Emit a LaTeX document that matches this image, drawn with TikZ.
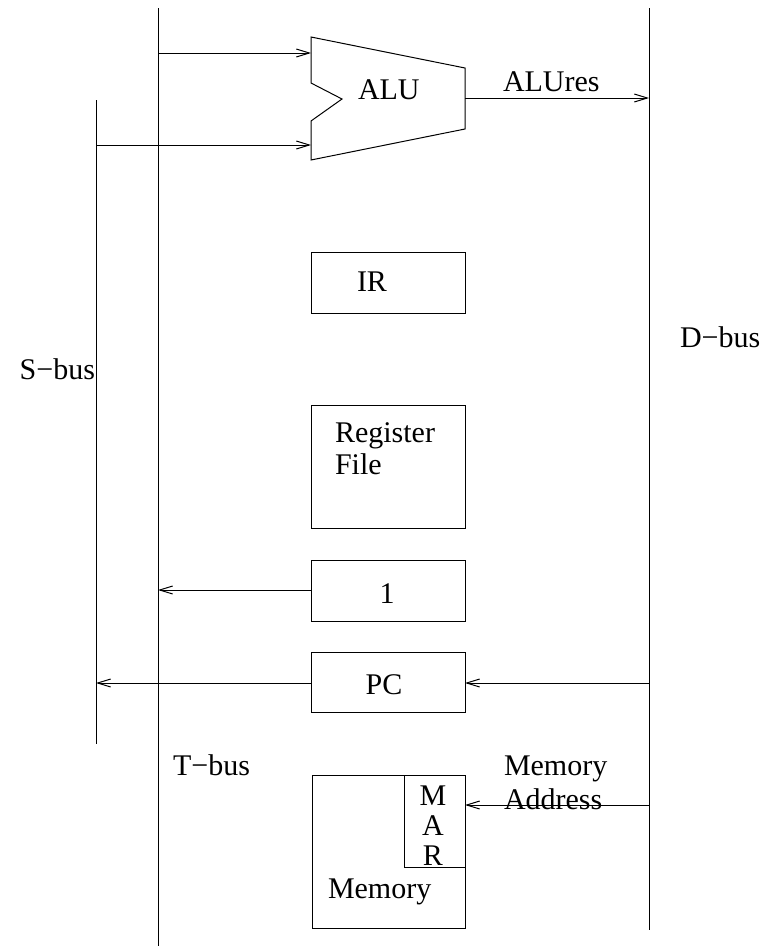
\documentclass[tikz,border=0pt]{standalone}
\usepackage{fontspec}
\setmainfont{Liberation Serif}
\usetikzlibrary{arrows.meta}
\begin{document}
\begin{tikzpicture}[x=1pt,y=-1pt,
  line width=1pt,
  every node/.style={inner sep=0pt,outer sep=0pt},
  box/.style={draw,line width=1pt,rectangle},
  lbl/.style={font=\fontsize{30}{31}\selectfont},
  bus/.style={line width=1pt},
  conn/.style={-{Straight Barb[length=13pt,width=8pt,line width=1pt]}}]
\useasboundingbox (0,0) rectangle (766,948);
% buses
\coordinate (tTop) at (158,8);
\coordinate (tBot) at (158,946);
\coordinate (sTop) at (96,100);
\coordinate (sBot) at (96,744);
\coordinate (dTop) at (649,8);
\coordinate (dBot) at (649,930);
\draw[bus] (tTop) -- (tBot);
\draw[bus] (sTop) -- (sBot);
\draw[bus] (dTop) -- (dBot);
% ALU
\coordinate (aluA) at (311,37);
\coordinate (aluB) at (465,68);
\coordinate (aluC) at (465,129);
\coordinate (aluD) at (311,160);
\draw (aluA) -- (aluB) -- (aluC) -- (aluD) -- (311,121) -- (342,99) -- (311,83) -- cycle;
\node[lbl,anchor=base west] (alu) at (358,99) {ALU};
% boxes
\node[box,minimum width=154pt,minimum height=61pt] (ir) at (388,282.5) {};
\node[box,minimum width=154pt,minimum height=123pt] (rf) at (388,466.5) {};
\node[box,minimum width=154pt,minimum height=61pt] (one) at (388,590.5) {};
\node[box,minimum width=154pt,minimum height=60pt] (pc) at (388,682) {};
\node[box,minimum width=153pt,minimum height=153pt] (mem) at (388.5,851.5) {};
\node[box,minimum width=61pt,minimum height=92pt] (mar) at (434.5,821) {};
% texts
\node[lbl,anchor=base west] (irt) at (357,291) {IR};
\node[lbl,anchor=base west] (rft1) at (335,442) {Register};
\node[lbl,anchor=base west] (rft2) at (335,474) {File};
\node[lbl,anchor=base] (onet) at (387,603) {1};
\node[lbl,anchor=base] (pct) at (384,694) {PC};
\node[lbl,anchor=base] (m1) at (433,805) {M};
\node[lbl,anchor=base] (m2) at (433,835) {A};
\node[lbl,anchor=base] (m3) at (433,865) {R};
\node[lbl,anchor=base west] (memt) at (328,898) {Memory};
\node[lbl,anchor=base west] (ma1) at (504,775) {Memory};
\node[lbl,anchor=base west] (ma2) at (504,809) {Address};
\node[lbl,anchor=base west] (tbus) at (173,775) {T−bus};
\node[lbl,anchor=base east] (sbus) at (95,379) {S−bus};
\node[lbl,anchor=base west] (dbus) at (680,347) {D−bus};
\node[lbl,anchor=base west] (alures) at (503,91) {ALUres};
% connectors
\coordinate (t1) at (158,53);
\coordinate (a1) at (311,53);
\coordinate (s1) at (96,145);
\coordinate (a2) at (311,145);
\coordinate (ao) at (465,98);
\coordinate (d1) at (649,98);
\draw[conn] (t1) -- (a1);
\draw[conn] (s1) -- (a2);
\draw[conn] (ao) -- (d1);
\coordinate (t2) at (158,590);
\draw[conn] (one.west |- t2) -- (t2);
\coordinate (s2) at (96,683);
\draw[conn] (pc.west |- s2) -- (s2);
\coordinate (d2) at (649,683);
\draw[conn] (d2) -- (pc.east |- d2);
\coordinate (d3) at (649,805);
\draw[conn] (d3) -- (mar.east |- d3);
\end{tikzpicture}
\end{document}
